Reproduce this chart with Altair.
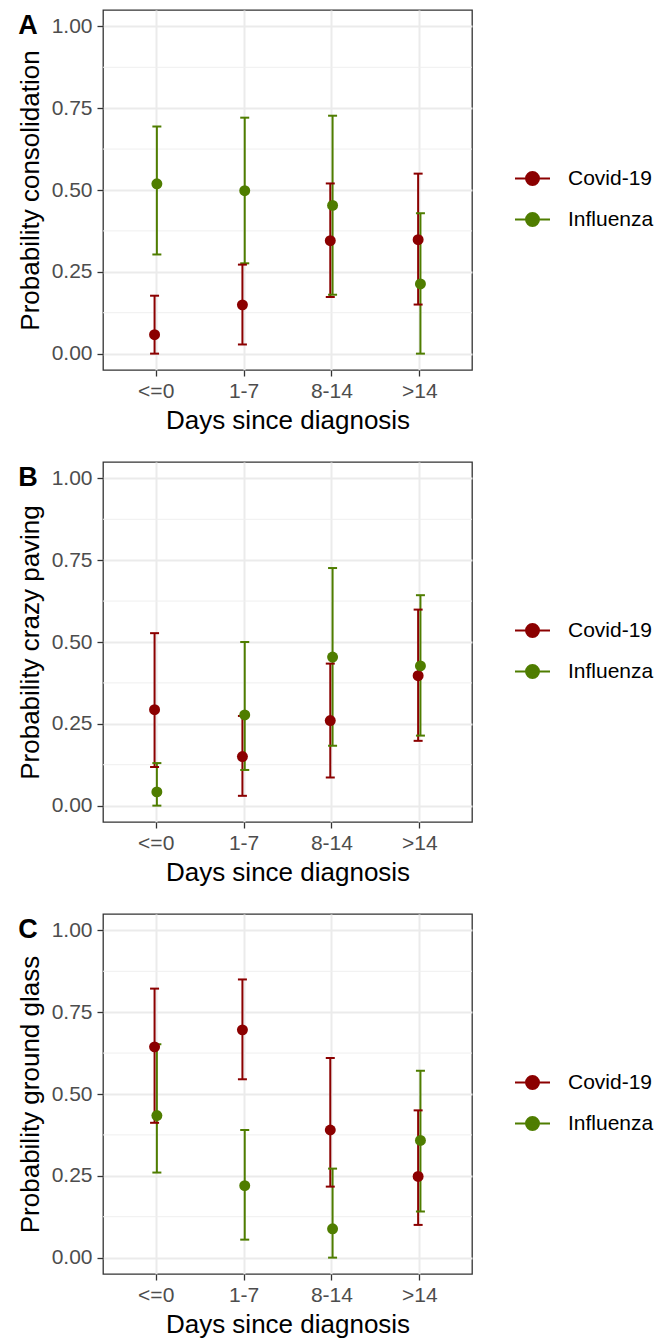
import altair as alt
import pandas as pd

categories = ["<=0", "1-7", "8-14", ">14"]
groups = ["Covid-19", "Influenza"]
colors = ["#8B0000", "#4F7D00"]

# Panel A: consolidation
a_covid_est = [0.058, 0.149, 0.345, 0.348]
a_covid_lo = [0.0, 0.028, 0.173, 0.150]
a_covid_hi = [0.177, 0.272, 0.520, 0.550]
a_flu_est = [0.519, 0.498, 0.453, 0.213]
a_flu_lo = [0.303, 0.276, 0.180, 0.0]
a_flu_hi = [0.694, 0.721, 0.727, 0.429]

# Panel B: crazy paving
b_covid_est = [0.293, 0.150, 0.260, 0.397]
b_covid_lo = [0.118, 0.030, 0.086, 0.198]
b_covid_hi = [0.527, 0.274, 0.434, 0.599]
b_flu_est = [0.042, 0.277, 0.454, 0.427]
b_flu_lo = [0.0, 0.109, 0.183, 0.214]
b_flu_hi = [0.130, 0.500, 0.726, 0.643]

# Panel C: ground glass
c_covid_est = [0.644, 0.696, 0.390, 0.248]
c_covid_lo = [0.412, 0.545, 0.217, 0.100]
c_covid_hi = [0.822, 0.850, 0.610, 0.450]
c_flu_est = [0.434, 0.220, 0.088, 0.358]
c_flu_lo = [0.260, 0.055, 0.0, 0.141]
c_flu_hi = [0.652, 0.390, 0.272, 0.571]

y_ticks = [0.0, 0.25, 0.5, 0.75, 1.0]
minor_ticks = [0.125, 0.375, 0.625, 0.875]

FONT = "Liberation Sans"


def panel(letter, ytitle, ce, cl, ch, fe, fl, fh):
    rows = []
    for i, c in enumerate(categories):
        rows.append({"cat": c, "group": groups[0], "est": ce[i], "lo": cl[i], "hi": ch[i]})
        rows.append({"cat": c, "group": groups[1], "est": fe[i], "lo": fl[i], "hi": fh[i]})
    df = pd.DataFrame(rows)

    yscale = alt.Scale(domain=[-0.05, 1.05], nice=False, zero=False)
    xenc = alt.X(
        "cat:N",
        sort=categories,
        scale=alt.Scale(type="point", padding=0.6),
        axis=alt.Axis(title="Days since diagnosis", labelAngle=0),
    )
    xoff = alt.XOffset("group:N", scale=alt.Scale(domain=groups, range=[-2.3, 2.3]))
    cenc = alt.Color(
        "group:N",
        scale=alt.Scale(domain=groups, range=colors),
        legend=alt.Legend(
            title=None,
            orient="none",
            legendX=411,
            legendY=150,
            symbolType="M -1 0 L 1 0 M -0.37 0 A 0.37 0.37 0 1 0 0.37 0 A 0.37 0.37 0 1 0 -0.37 0",
            symbolSize=1225,
            symbolStrokeWidth=2,
            symbolOpacity=1,
            labelFontSize=21,
            labelColor="#000000",
            labelFont=FONT,
            labelOffset=17,
            rowPadding=12,
            padding=0,
        ),
    )

    base = alt.Chart(df).encode(x=xenc, xOffset=xoff, color=cenc)

    minor = (
        alt.Chart(pd.DataFrame({"v": minor_ticks}))
        .mark_rule(color="#EFEFEF", strokeWidth=1)
        .encode(y=alt.Y("v:Q", scale=yscale))
    )
    bars = base.mark_rule(strokeWidth=2, opacity=1).encode(
        y=alt.Y("lo:Q", scale=yscale,
                axis=alt.Axis(title=ytitle, values=y_ticks, format=".2f")),
        y2="hi:Q",
    )
    cap_lo = base.mark_tick(size=9, thickness=2, opacity=1).encode(y=alt.Y("lo:Q", scale=yscale))
    cap_hi = base.mark_tick(size=9, thickness=2, opacity=1).encode(y=alt.Y("hi:Q", scale=yscale))
    pts = base.mark_point(filled=True, size=120, opacity=1).encode(
        y=alt.Y("est:Q", scale=yscale)
    )
    lab = (
        alt.Chart(pd.DataFrame({"t": [letter], "v": [1.0]}))
        .mark_text(fontSize=27, fontWeight="bold", font=FONT, align="center",
                   baseline="middle", color="#000000")
        .encode(x=alt.value(-75), y=alt.Y("v:Q", scale=yscale), text="t:N")
    )
    return alt.layer(minor, bars, cap_lo, cap_hi, pts, lab).properties(width=369, height=360)


pA = panel("A", "Probability consolidation", a_covid_est, a_covid_lo, a_covid_hi,
           a_flu_est, a_flu_lo, a_flu_hi)
pB = panel("B", "Probability crazy paving", b_covid_est, b_covid_lo, b_covid_hi,
           b_flu_est, b_flu_lo, b_flu_hi)
pC = panel("C", "Probability ground glass", c_covid_est, c_covid_lo, c_covid_hi,
           c_flu_est, c_flu_lo, c_flu_hi)

chart = (
    alt.vconcat(pA, pB, pC, spacing=27)
    .resolve_scale(color="independent")
    .resolve_legend(color="independent")
    .properties(padding={"left": 8, "top": 1, "right": 0, "bottom": 0})
    .configure_view(stroke="#333333", strokeWidth=1.3)
    .configure_axis(
        labelFont=FONT,
        titleFont=FONT,
        labelFontSize=21,
        titleFontSize=26,
        labelColor="#4D4D4D",
        titleColor="#000000",
        titleFontWeight="normal",
        tickColor="#333333",
        tickWidth=1.3,
        tickSize=6,
        domain=False,
        grid=True,
        gridColor="#EBEBEB",
        gridWidth=2,
        labelPadding=4,
        titlePadding=6,
    )
    .configure_axisY(labelPadding=5, titlePadding=8)
)

chart.save("out.html", embed_options={"renderer": "svg", "actions": False})
